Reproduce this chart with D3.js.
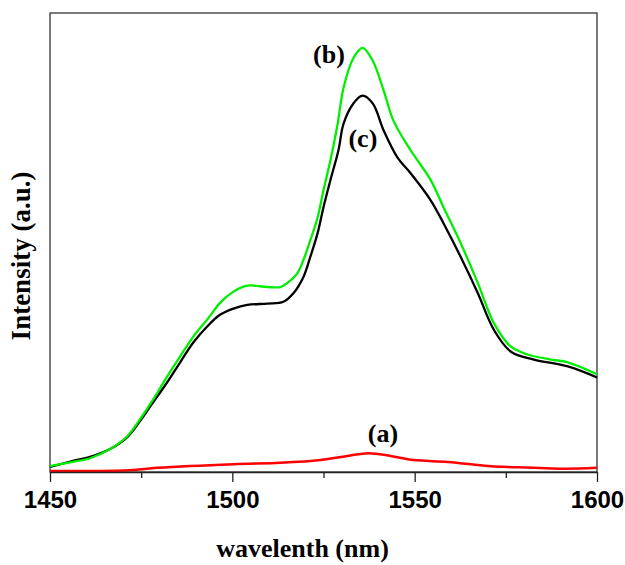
<!DOCTYPE html>
<html>
<head>
<meta charset="utf-8">
<script src="https://cdn.jsdelivr.net/npm/d3@7"></script>
<style>
  html, body { margin: 0; padding: 0; background: #fff; }
  svg { display: block; }
</style>
</head>
<body>
<svg id="chart" width="625" height="565"></svg>
<script>
// ---- data ----
const xTicksMajor = [1450, 1500, 1550, 1600];
const xTicksMinor = [1475, 1525, 1575];

// (b) green curve
const wlB = [1450, 1456.3, 1461.0, 1466.5, 1471.2, 1474.7, 1478.3, 1482.1, 1485.7, 1489.3, 1493.1, 1496.7, 1500.3, 1504.1, 1509.6, 1513.2, 1515.1, 1517.9, 1519.5, 1521.4, 1523.4, 1525.0, 1526.9, 1528.8, 1530.5, 1533.2, 1535.7, 1538.5, 1541.5, 1544.2, 1548.9, 1554.4, 1557.9, 1562.6, 1567.3, 1571.7, 1576.4, 1581.0, 1587.4, 1592.0, 1600];
const intB = [1.3, 2.2, 3.0, 5.0, 7.8, 11.5, 15.8, 20.8, 25.2, 29.5, 33.2, 36.9, 39.3, 40.6, 40.3, 40.3, 41.2, 43.4, 46.2, 50.5, 55.5, 61.4, 67.9, 75.5, 83.7, 90.2, 92.4, 89.6, 83.1, 76.5, 70.1, 63.6, 57.7, 49.9, 41.2, 32.5, 27.3, 25.6, 24.5, 23.9, 21.3];

// (c) black curve
const wlC = [1450, 1456.3, 1461.0, 1466.5, 1471.2, 1474.7, 1477.5, 1482.1, 1485.7, 1489.3, 1493.1, 1496.7, 1500.3, 1504.1, 1509.6, 1514.0, 1516.8, 1519.5, 1521.4, 1523.4, 1525.0, 1526.9, 1529.1, 1530.5, 1533.2, 1535.7, 1538.5, 1541.5, 1545.3, 1548.9, 1554.4, 1557.9, 1562.6, 1567.3, 1571.7, 1576.4, 1582.7, 1592.0, 1600];
const intC = [1.1, 2.4, 3.3, 5.0, 7.6, 11.1, 14.3, 19.5, 23.9, 28.2, 31.7, 34.3, 35.6, 36.4, 36.7, 37.1, 39.0, 42.5, 46.9, 52.1, 57.7, 63.6, 70.1, 75.9, 80.3, 82.0, 80.3, 74.4, 68.5, 65.1, 59.2, 54.2, 46.9, 39.0, 31.0, 26.2, 24.5, 23.0, 20.6];

// (a) red curve
const wlA = [1450, 1471.7, 1479.4, 1500.3, 1513.2, 1524.2, 1531.6, 1537.4, 1543.4, 1549.7, 1559.1, 1570.1, 1575.6, 1591.0, 1600];
const intA = [0.2, 0.4, 0.9, 1.7, 2.0, 2.6, 3.5, 4.1, 3.5, 2.6, 2.2, 1.3, 1.1, 0.7, 0.9];

const curveLabels = ["(a)", "(b)", "(c)"];
const labelPos = [[1541.3, 6.5], [1526.5, 89.1], [1535.8, 70.8]];

// ---- drawing ----
const svg = d3.select("#chart");
const mLeft = 50, mRight = 597, mTop = 13, mBottom = 472;

const x = d3.scaleLinear().domain([1450, 1600]).range([mLeft, mRight]);
const y = d3.scaleLinear().domain([0, 100]).range([mBottom, mTop]);

// frame
svg.append("rect")
  .attr("x", mLeft).attr("y", mTop)
  .attr("width", mRight - mLeft).attr("height", mBottom - mTop)
  .attr("fill", "none").attr("stroke", "#333").attr("stroke-width", 1.3);

const line = d3.line().x(d => x(d[0])).y(d => y(d[1])).curve(d3.curveCatmullRom.alpha(0.5));

function series(wl, it, color, w) {
  svg.append("path")
    .datum(wl.map((v, i) => [v, it[i]]))
    .attr("fill", "none")
    .attr("stroke", color)
    .attr("stroke-width", w)
    .attr("stroke-linejoin", "round")
    .attr("d", line);
}
series(wlA, intA, "#ff0000", 2.5);
series(wlC, intC, "#000000", 2.3);
series(wlB, intB, "#00ee00", 2.3);

// x axis - major ticks with labels
const gx = svg.append("g").attr("transform", `translate(0,${mBottom})`)
  .call(d3.axisBottom(x).tickValues(xTicksMajor).tickFormat(d3.format("d"))
    .tickSize(10).tickSizeOuter(0).tickPadding(9));
gx.select(".domain").attr("stroke", "#222").attr("stroke-width", 1.3);
gx.selectAll(".tick line").attr("stroke", "#222").attr("stroke-width", 1.3);
gx.selectAll(".tick text")
  .attr("font-family", "'Liberation Sans', Arial, sans-serif")
  .attr("font-weight", "bold").attr("font-size", 24).attr("fill", "#000");

// minor ticks
const gm = svg.append("g").attr("transform", `translate(0,${mBottom})`)
  .call(d3.axisBottom(x).tickValues(xTicksMinor).tickFormat("").tickSize(6).tickSizeOuter(0));
gm.select(".domain").remove();
gm.selectAll(".tick line").attr("stroke", "#222").attr("stroke-width", 1.3);

// axis titles
const serif = "'Liberation Serif', 'Times New Roman', serif";
svg.append("text")
  .attr("x", (mLeft + mRight) / 2 - 21).attr("y", 557)
  .attr("text-anchor", "middle")
  .attr("font-family", serif).attr("font-weight", "bold").attr("font-size", 26)
  .text("wavelenth (nm)");

svg.append("text")
  .attr("transform", "translate(30,256) rotate(-90)")
  .attr("text-anchor", "middle")
  .attr("font-family", serif).attr("font-weight", "bold").attr("font-size", 27)
  .text("Intensity (a.u.)");

// curve labels
svg.selectAll("text.lbl").data(curveLabels).enter().append("text")
  .attr("class", "lbl")
  .attr("x", (d, i) => x(labelPos[i][0]))
  .attr("y", (d, i) => y(labelPos[i][1]))
  .attr("text-anchor", "middle")
  .attr("font-family", serif).attr("font-weight", "bold").attr("font-size", 26)
  .text(d => d);
</script>
</body>
</html>
